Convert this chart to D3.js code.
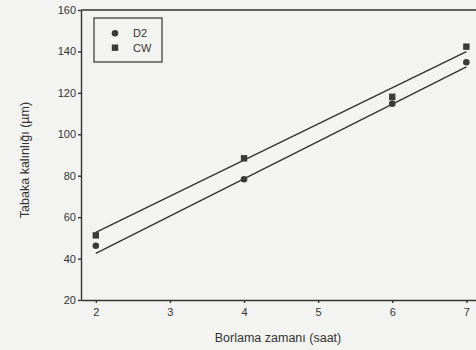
<!DOCTYPE html>
<html>
<head>
<meta charset="utf-8">
<script src="https://cdn.jsdelivr.net/npm/d3@7"></script>
<style>
  body { margin: 0; background: #f3f3f1; }
  svg { display: block; font-family: "Liberation Sans", Arial, sans-serif; }
  .axis path, .axis line { stroke: #333; stroke-width: 1.4; }
  .axis text { fill: #333; font-size: 11px; }
</style>
</head>
<body>
<div id="chart"></div>
<script>
// data
var times = [2, 4, 6, 7];
var d2Values = [46.2, 78.3, 114.8, 134.8];
var cwValues = [51.2, 88.4, 118.1, 142.3];
// fitted lines, value at first and last time
var fitTimes = [2, 7];
var d2Fit = [42.5, 132.5];
var cwFit = [52.7, 139.9];
var xTicks = [2, 3, 4, 5, 6, 7];
var yTicks = [20, 40, 60, 80, 100, 120, 140, 160];

var margin = { top: 10, right: 0, bottom: 50, left: 81 },
    width = 476 - margin.left - margin.right,
    height = 350 - margin.top - margin.bottom;

var svg = d3.select("#chart")
    .append("svg")
    .attr("width", 476)
    .attr("height", 350)
    .append("g")
    .attr("transform", "translate(" + margin.left + "," + margin.top + ")");

var x = d3.scaleLinear().domain([1.8, 7.13]).range([0, width]);
var y = d3.scaleLinear().domain([20, 160]).range([height, 0]);

// top frame line
svg.append("line")
    .attr("x1", 0).attr("x2", width)
    .attr("y1", 0).attr("y2", 0)
    .style("stroke", "#333").style("stroke-width", 1.4);

svg.append("g")
    .attr("class", "axis")
    .attr("transform", "translate(0," + height + ")")
    .call(d3.axisBottom(x).tickValues(xTicks).tickFormat(d3.format("d"))
        .tickSize(3).tickPadding(5).tickSizeOuter(0));

svg.append("g")
    .attr("class", "axis")
    .call(d3.axisLeft(y).tickValues(yTicks).tickSize(3).tickPadding(2).tickSizeOuter(0));

// fit lines
var line = d3.line()
    .x(function (d) { return x(d[0]); })
    .y(function (d) { return y(d[1]); });

[d2Fit, cwFit].forEach(function (fit) {
    svg.append("path")
        .datum(fitTimes.map(function (t, i) { return [t, fit[i]]; }))
        .attr("d", line)
        .style("fill", "none")
        .style("stroke", "#333")
        .style("stroke-width", 1.4);
});

// markers
svg.selectAll(".d2")
    .data(times)
    .enter().append("circle")
    .attr("class", "d2")
    .attr("cx", function (d) { return x(d); })
    .attr("cy", function (d, i) { return y(d2Values[i]); })
    .attr("r", 3.3)
    .style("fill", "#3a3a3a");

svg.selectAll(".cw")
    .data(times)
    .enter().append("rect")
    .attr("class", "cw")
    .attr("x", function (d) { return x(d) - 3.2; })
    .attr("y", function (d, i) { return y(cwValues[i]) - 3.2; })
    .attr("width", 6.4)
    .attr("height", 6.4)
    .style("fill", "#3a3a3a");

// legend
var legend = svg.append("g").attr("transform", "translate(13,8)");
legend.append("rect")
    .attr("width", 68).attr("height", 44)
    .style("fill", "none").style("stroke", "#333").style("stroke-width", 1.2);
legend.append("circle").attr("cx", 21).attr("cy", 15.3).attr("r", 3.3).style("fill", "#3a3a3a");
legend.append("rect").attr("x", 17.8).attr("y", 26.5).attr("width", 6.4).attr("height", 6.4).style("fill", "#3a3a3a");
legend.append("text").attr("x", 39).attr("y", 15.3).attr("dy", "0.35em")
    .style("font-size", "11px").style("fill", "#333").text("D2");
legend.append("text").attr("x", 39).attr("y", 29.7).attr("dy", "0.35em")
    .style("font-size", "11px").style("fill", "#333").text("CW");

// axis titles
svg.append("text")
    .attr("x", 197)
    .attr("y", height + 38)
    .attr("dy", "0.35em")
    .style("text-anchor", "middle")
    .style("font-size", "12.5px")
    .style("fill", "#333")
    .text("Borlama zamanı (saat)");

svg.append("text")
    .attr("transform", "rotate(-90)")
    .attr("x", -150)
    .attr("y", -56)
    .attr("dy", "0.35em")
    .style("text-anchor", "middle")
    .style("font-size", "12.5px")
    .style("fill", "#333")
    .text("Tabaka kalınlığı (µm)");
</script>
</body>
</html>
